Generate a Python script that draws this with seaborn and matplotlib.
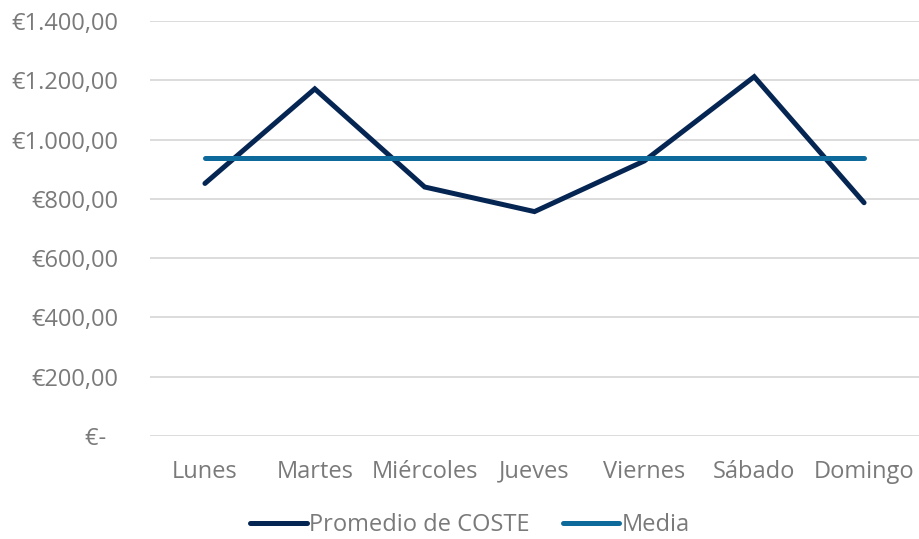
import matplotlib
matplotlib.use("Agg")
import matplotlib.pyplot as plt
import seaborn as sns
import pandas as pd
from matplotlib.ticker import FuncFormatter, MultipleLocator

dias = ["Lunes", "Martes", "Miércoles", "Jueves", "Viernes", "Sábado", "Domingo"]
coste = [852, 1171, 840, 757, 928, 1212, 787]
media = [937, 937, 937, 937, 937, 937, 937]
series = ["Promedio de COSTE", "Media"]

df = pd.DataFrame({
    "dia": dias * 2,
    "x": list(range(len(dias))) * 2,
    "valor": coste + media,
    "serie": [series[0]] * len(dias) + [series[1]] * len(dias),
})

sns.set_theme(style="white")
plt.rcParams["font.family"] = ["Open Sans", "DejaVu Sans"]

fig = plt.figure(figsize=(9.19, 5.39), dpi=100)
ax = fig.add_axes([150 / 919, 103 / 539, 769 / 919, 415 / 539])

palette = {series[0]: "#052552", series[1]: "#0f6a9c"}
sns.lineplot(data=df, x="x", y="valor", hue="serie", palette=palette,
             linewidth=3.6, ax=ax, legend=False, sort=False)
for ln in ax.get_lines():
    ln.set_solid_capstyle("round")
    ln.set_solid_joinstyle("miter")

ax.set_xlim(-0.5, len(dias) - 0.5)
ax.set_ylim(0, 1400)
ax.yaxis.set_major_locator(MultipleLocator(200))

def fmt(v, pos):
    if abs(v) < 1e-9:
        return "€-  "
    s = f"{v:,.2f}".replace(",", "X").replace(".", ",").replace("X", ".")
    return "€" + s

ax.yaxis.set_major_formatter(FuncFormatter(fmt))
ax.set_xticks(range(len(dias)))
ax.set_xticklabels(dias)
ax.set_xlabel("")
ax.set_ylabel("")
ax.grid(axis="y", color="#d9d9d9", linewidth=1.3)
ax.grid(axis="x", visible=False)
ax.set_axisbelow(True)
for s in ax.spines.values():
    s.set_visible(False)
ax.tick_params(axis="y", length=0, pad=23, labelsize=17, labelcolor="#7a7a7a")
ax.tick_params(axis="x", length=0, pad=17, labelsize=17, labelcolor="#7a7a7a")

from matplotlib.lines import Line2D
handles = [Line2D([0], [0], color=palette[s], linewidth=3.6, solid_capstyle="round") for s in series]
leg = fig.legend(handles, series, loc="center", bbox_to_anchor=(470 / 919, 1 - 525 / 539),
                 ncol=2, frameon=False, fontsize=17, handlelength=2.4,
                 handletextpad=0.1, columnspacing=1.4)
for t in leg.get_texts():
    t.set_color("#7a7a7a")

fig.savefig("out.png", dpi=100)
